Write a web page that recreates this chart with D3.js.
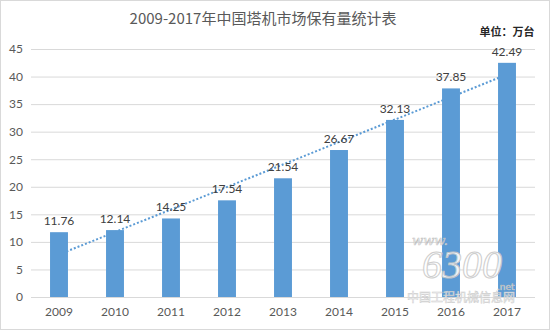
<!DOCTYPE html>
<html><head><meta charset="utf-8">
<script src="https://cdn.jsdelivr.net/npm/d3@7"></script>
<style>html,body{margin:0;padding:0;background:#fff;}</style>
</head><body>
<script>
const title = "2009-2017年中国塔机市场保有量统计表";
const unitLabel = "单位：万台";
const years = ["2009","2010","2011","2012","2013","2014","2015","2016","2017"];
const values = [11.76,12.14,14.25,17.54,21.54,26.67,32.13,37.85,42.49];
const yTicks = [0,5,10,15,20,25,30,35,40,45];

const W = 550, H = 330;
const svg = d3.select("body").append("svg").attr("width", W).attr("height", H);
svg.append("rect").attr("x",0.5).attr("y",0.5).attr("width",W-1).attr("height",H-1)
  .attr("fill","#fff").attr("stroke","#d9d9d9");

const x = d3.scaleBand().domain(years).range([31, 535]).paddingInner(0.68).paddingOuter(0.34);
const y = d3.scaleLinear().domain([0,45]).range([297, 49]);
const numFont = "Lato, 'Open Sans', sans-serif";

// gridlines
svg.append("g").selectAll("line").data(yTicks).join("line")
  .attr("x1",31).attr("x2",535).attr("y1",d=>y(d)+0.5).attr("y2",d=>y(d)+0.5)
  .attr("stroke","#d9d9d9").attr("stroke-width",1);

// y axis labels
const yAxis = d3.axisLeft(y).tickValues(yTicks).tickSize(0).tickPadding(0);
const gy = svg.append("g").attr("transform","translate(23,0)").call(yAxis);
gy.select(".domain").remove();
gy.selectAll("text").attr("font-family",numFont).attr("font-size",12).attr("fill","#595959");

// x axis labels
const xAxis = d3.axisBottom(x).tickSize(0).tickPadding(0);
const gx = svg.append("g").attr("transform","translate(0,307)").call(xAxis);
gx.select(".domain").remove();
gx.selectAll("text").attr("font-family",numFont).attr("font-size",12).attr("fill","#595959");

// trendline (linear regression)
const n = values.length;
const xm = (n-1)/2, ym = d3.mean(values);
let sxy=0,sxx=0;
values.forEach((v,i)=>{sxy+=(i-xm)*(v-ym);sxx+=(i-xm)*(i-xm);});
const slope = sxy/sxx, intercept = ym - slope*xm;
const cx = i => x(years[i]) + x.bandwidth()/2;
svg.append("line")
  .attr("x1",cx(0)).attr("y1",y(intercept))
  .attr("x2",cx(n-1)).attr("y2",y(intercept+slope*(n-1)))
  .attr("stroke","#5b9bd5").attr("stroke-width",2).attr("stroke-dasharray","2,2");

// bars
svg.append("g").selectAll("rect").data(values).join("rect")
  .attr("x",(d,i)=>x(years[i])).attr("width",x.bandwidth())
  .attr("y",d=>y(d)).attr("height",d=>y(0)-y(d))
  .attr("fill","#5b9bd5");

// value labels
svg.append("g").selectAll("text").data(values).join("text")
  .attr("x",(d,i)=>cx(i)).attr("y",d=>y(d)-7)
  .attr("text-anchor","middle").attr("font-family",numFont).attr("font-size",12)
  .attr("fill","#404040").text(d=>d.toFixed(2));

// title
svg.append("text").attr("x",263).attr("y",24).attr("text-anchor","middle")
  .attr("font-family","'Noto Sans CJK SC', sans-serif").attr("font-size",15)
  .attr("fill","#595959").text(title);
svg.append("text").attr("x",507).attr("y",36).attr("text-anchor","middle")
  .attr("font-family","'Noto Sans CJK SC', sans-serif").attr("font-size",11).attr("font-weight","bold")
  .attr("fill","#262626").text(unitLabel);

// watermark
const wm = svg.append("g").attr("opacity",0.9);
wm.append("text").attr("x",412).attr("y",245).attr("font-family","'DejaVu Serif', serif")
  .attr("font-size",13).attr("font-style","italic").attr("fill","#fff").attr("stroke","#bbb").attr("stroke-width",0.6).text("www.");
wm.append("text").attr("x",462).attr("y",278).attr("text-anchor","middle").attr("font-family","'Liberation Serif', serif")
  .attr("font-size",40).attr("font-style","italic").attr("fill","#fff").attr("stroke","#c8c8c8").attr("stroke-width",1).text("6300");
wm.append("text").attr("x",497).attr("y",290).attr("font-family","'DejaVu Sans', sans-serif")
  .attr("font-size",9).attr("fill","#fff").attr("stroke","#bbb").attr("stroke-width",0.5).text(".net");
wm.append("text").attr("x",461).attr("y",302).attr("text-anchor","middle").attr("font-family","'Noto Sans CJK SC', sans-serif")
  .attr("font-size",12).attr("fill","#fff").attr("stroke","#c8c8c8").attr("stroke-width",0.5).text("中国工程机械信息网");
</script>
</body></html>
